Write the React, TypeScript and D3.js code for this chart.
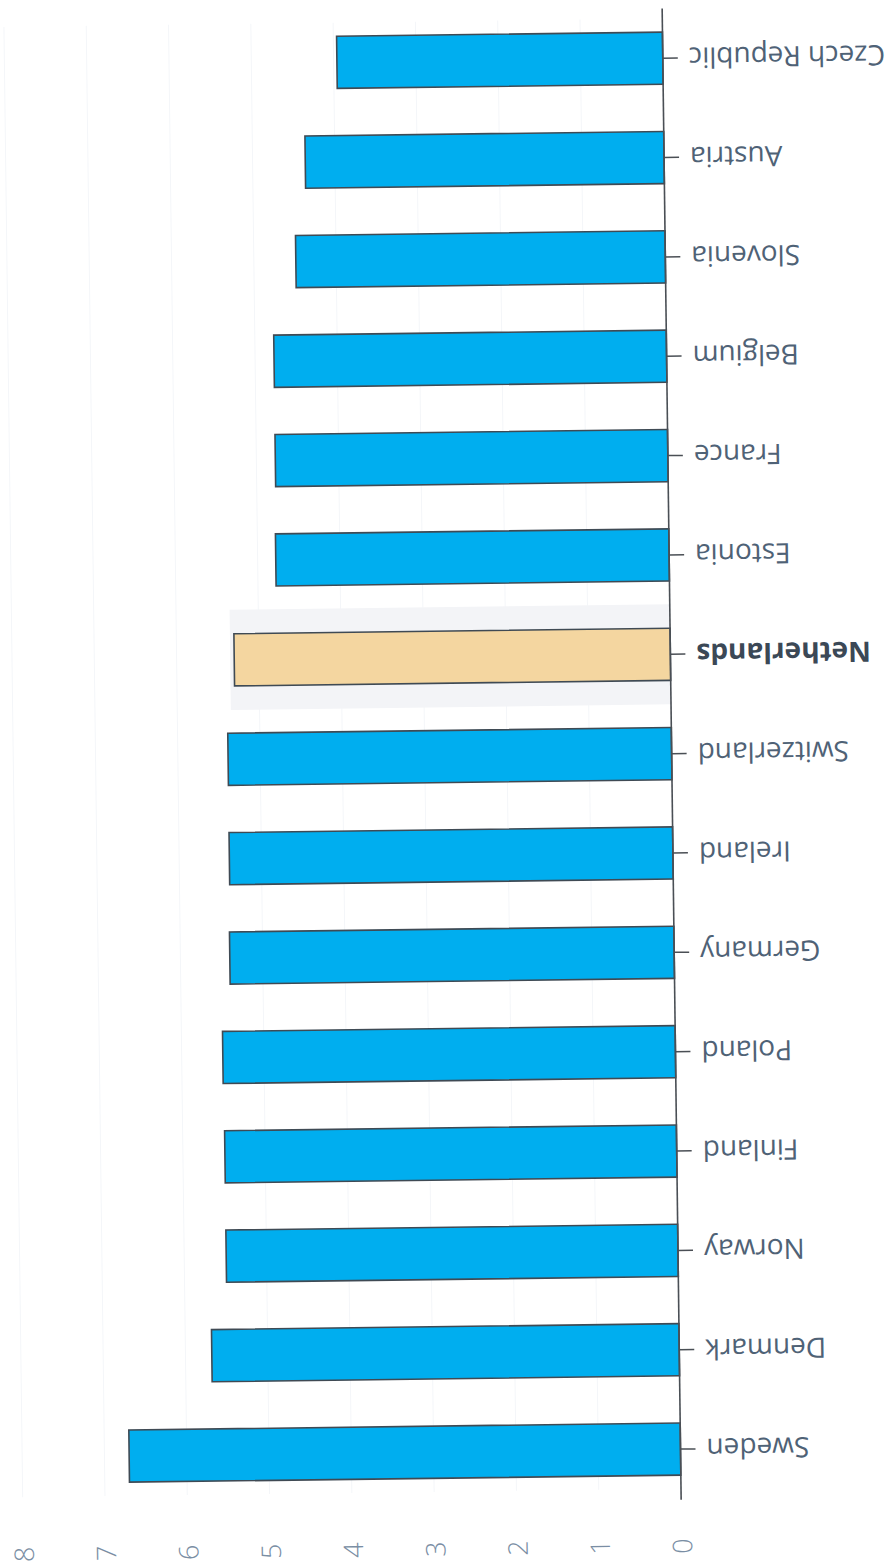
import React from "react";
import * as d3 from "d3";

// Categories listed top-to-bottom in the chart's own (unrotated) orientation
const categories = [
  "Sweden",
  "Denmark",
  "Norway",
  "Finland",
  "Poland",
  "Germany",
  "Ireland",
  "Switzerland",
  "Netherlands",
  "Estonia",
  "France",
  "Belgium",
  "Slovenia",
  "Austria",
  "Czech Republic",
];
const values = [6.7, 5.68, 5.49, 5.49, 5.5, 5.4, 5.39, 5.39, 5.3, 4.78, 4.77, 4.77, 4.49, 4.36, 3.96];
const highlighted = "Netherlands";
const tickValues = [0, 1, 2, 3, 4, 5, 6, 7, 8];

const W = 894;
const H = 1565;

export default function App() {
  const x = d3.scaleLinear().domain([0, 8]).range([222, 222 + 8 * 82.3]);
  const step = 1391 / 14;
  const y = d3
    .scaleBand<string>()
    .domain(categories)
    .range([113 - step / 2, 1504 + step / 2])
    .paddingInner(0.475)
    .paddingOuter(0.2375);
  const [y0, y1] = y.range();
  const x0 = x(0);
  const font = "'Open Sans', 'DejaVu Sans', sans-serif";

  return (
    <svg
      width={W}
      height={H}
      style={{ position: "absolute", left: 0, top: 0, display: "block", background: "#ffffff" }}
    >
      <g transform={`rotate(179.27, ${W / 2}, ${H / 2})`}>
        {/* faint gridlines */}
        {tickValues
          .filter((t) => t > 0)
          .map((t) => (
            <line key={`g${t}`} x1={x(t)} x2={x(t)} y1={y0 + 10} y2={y1 - 10} stroke="#f4f6f9" strokeWidth={1} />
          ))}
        {/* highlight halo behind Netherlands */}
        <rect
          x={x0}
          y={(y(highlighted) as number) - 24}
          width={x(5.3) - x0 + 4}
          height={y.bandwidth() + 48}
          fill="#f3f4f7"
        />
        {/* bars */}
        {categories.map((c, i) => (
          <rect
            key={c}
            x={x0}
            y={y(c)}
            width={x(values[i]) - x0}
            height={y.bandwidth()}
            fill={c === highlighted ? "#f4d6a0" : "#00aeef"}
            stroke="#3f4a54"
            strokeWidth={1.6}
          />
        ))}
        {/* axis line */}
        <line x1={x0} x2={x0} y1={y0 - 1} y2={y1} stroke="#4a4f55" strokeWidth={1.6} />
        {/* category ticks and labels */}
        {categories.map((c) => {
          const cy = (y(c) as number) + y.bandwidth() / 2;
          const hl = c === highlighted;
          return (
            <g key={`l${c}`}>
              <line x1={x0 - 15} x2={x0} y1={cy} y2={cy} stroke="#4a4f55" strokeWidth={1.5} />
              <text
                x={x0 - 26}
                y={cy}
                dy="0.36em"
                textAnchor="end"
                fontFamily={font}
                fontSize={28}
                fontWeight={hl ? 700 : 400}
                fill={hl ? "#3b4856" : "#4f6276"}
              >
                {c}
              </text>
            </g>
          );
        })}
        {/* value axis labels (rotated) */}
        {tickValues.map((t) => (
          <text
            key={`t${t}`}
            x={x(t)}
            y={16}
            transform={`rotate(90, ${x(t)}, 16)`}
            textAnchor="middle"
            dominantBaseline="central"
            fontFamily={font}
            fontSize={27}
            fontWeight={300}
            fill="#7a8ea4"
          >
            {t}
          </text>
        ))}
      </g>
    </svg>
  );
}
